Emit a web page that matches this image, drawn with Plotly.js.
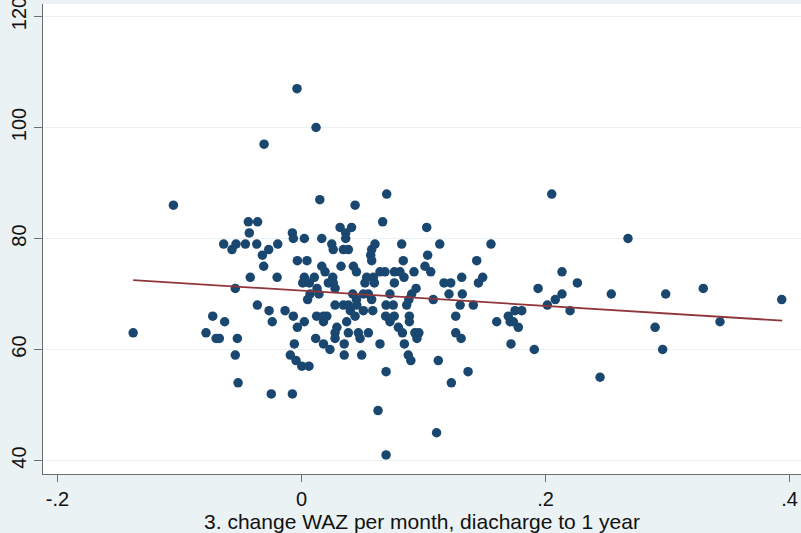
<!DOCTYPE html>
<html>
<head>
<meta charset="utf-8">
<script src="https://cdn.plot.ly/plotly-3.0.1.min.js"></script>
<style>html,body{margin:0;padding:0;background:#EAF2F3;}#chart{width:801px;height:533px;}</style>
</head>
<body>
<div id="chart"></div>
<script>
// change in WAZ per month (discharge to 1 year)
var wazChange = [
 -0.138,-0.105,-0.0783,-0.0728,-0.0700,-0.0674,-0.0638,-0.0630,-0.0570,-0.0537,
 -0.0543,-0.0526,-0.0543,-0.0520,-0.0460,-0.0436,-0.0360,-0.0428,-0.0420,-0.0367,
 -0.0362,-0.0321,-0.0310,-0.0307,-0.0269,-0.0266,-0.0240,-0.0248,-0.0195,-0.0200,
 -0.0135,-0.0092,-0.0075,-0.0067,-0.0067,-0.0059,-0.0075,-0.0045,-0.0034,-0.0034,
 -0.0037,0.0002,0.0061,0.0023,0.0045,0.0023,0.0010,0.0105,0.0064,0.0050,
 0.0070,0.0127,0.0023,0.0119,0.0150,0.0124,0.0180,0.0207,0.0116,0.0180,
 0.0180,0.0233,0.0166,0.0166,0.0193,0.0248,0.0260,0.0316,0.0410,0.0362,
 0.0362,0.0343,0.0384,0.0324,0.0425,0.0450,0.0256,0.0220,0.0260,0.0275,
 0.0275,0.0343,0.0384,0.0400,0.0439,0.0370,0.0290,0.0275,0.0275,0.0384,
 0.0466,0.0480,0.0548,0.0350,0.0350,0.0493,0.0643,0.0693,0.0627,0.0693,
 0.0439,0.0698,0.0665,0.1026,0.0602,0.0575,0.0567,0.0575,0.0821,0.1133,
 0.0834,0.1034,0.1012,0.1059,0.1436,0.0643,0.0684,0.0761,0.0807,0.0922,
 0.0534,0.0589,0.0840,0.0761,0.0520,0.0597,0.1168,0.1223,0.1313,0.1450,
 0.1485,0.0420,0.0507,0.0548,0.0725,0.0903,0.0939,0.0880,0.1080,0.1209,
 0.1318,0.1300,0.1408,0.0575,0.0450,0.0693,0.0752,0.0862,0.0507,0.0584,
 0.0690,0.0760,0.0884,0.0725,0.0884,0.1264,0.0794,0.0827,0.0929,0.0962,
 0.0946,0.0843,0.0875,0.0896,0.1121,0.1107,0.1228,0.1365,0.1264,0.1308,
 0.1553,0.2051,0.2676,0.2135,0.2261,0.1939,0.2135,0.2080,0.2015,0.2201,
 0.2539,0.2985,0.3293,0.3936,0.3430,0.2898,0.2960,0.1908,0.1717,0.1600,
 0.1695,0.1750,0.1805,0.1710,0.1736,0.1777,0.2447,0.0143,0.0453
];
var outcome = [
 63,86,63,66,62,62,79,65,78,79,
 71,62,59,54,79,83,83,81,73,79,
 68,77,75,97,78,67,65,52,79,73,
 67,59,81,80,66,61,52,58,76,64,
 107,57,57,80,76,73,72,73,72,69,
 70,71,65,100,87,66,66,66,62,65,
 61,60,80,75,74,79,78,82,82,81,
 80,78,78,75,75,74,73,72,72,71,
 68,68,68,67,66,65,64,63,62,63,
 63,62,63,61,59,59,61,56,49,41,
 86,88,83,82,79,78,77,76,79,79,
 76,77,75,74,76,74,74,74,74,74,
 73,73,73,72,72,72,72,72,73,72,
 73,70,70,70,70,70,71,69,69,70,
 70,68,68,69,69,68,68,68,67,67,
 66,66,66,65,65,66,64,63,63,63,
 62,61,59,58,58,45,54,56,63,62,
 79,88,80,74,72,71,70,69,68,67,
 70,70,71,69,65,64,60,60,61,65,
 66,67,67,65,65,64,55,70,68
];
// fitted values (linear fit) at the ends of the data range
var fitX = [-0.138, 0.394];
var fitY = [72.5, 65.2];
var xTicks = [-0.2, 0, 0.2, 0.4];
var xTickText = ['-.2', '0', '.2', '.4'];
var yTicks = [40, 60, 80, 100, 120];
var yTickText = ['40', '60', '80', '100', '120'];
var xTitle = '3. change WAZ per month, diacharge to 1 year';

var font = 'Liberation Sans, Arial, sans-serif';
var traces = [
  {x: wazChange, y: outcome, type: 'scatter', mode: 'markers',
   marker: {color: '#1a476f', size: 9.5, line: {width: 0}}, hoverinfo: 'skip'},
  {x: fitX, y: fitY, type: 'scatter', mode: 'lines',
   line: {color: '#90353b', width: 1.8}, hoverinfo: 'skip'}
];
var layout = {
  width: 801, height: 533,
  paper_bgcolor: '#EAF2F3', plot_bgcolor: '#ffffff',
  margin: {l: 43, r: 0, t: 4, b: 59, pad: 0},
  showlegend: false,
  font: {family: font, color: '#111111', size: 20},
  xaxis: {
    range: [-0.2119, 0.4094], tickmode: 'array', tickvals: xTicks, ticktext: xTickText,
    showgrid: false, zeroline: false, showline: true, linecolor: '#6e6e6e', linewidth: 1.2,
    ticks: 'outside', ticklen: 7, tickwidth: 1.2, tickcolor: '#6e6e6e',
    ticklabeloverflow: 'allow',
    tickfont: {family: font, size: 20, color: '#111111'},
    title: {text: xTitle, font: {family: font, size: 21, color: '#111111'}, standoff: 0}
  },
  yaxis: {
    range: [37.57, 122.25], tickmode: 'array', tickvals: yTicks, ticktext: yTickText,
    showgrid: true, gridcolor: '#EAF2F3', gridwidth: 1.5, zeroline: false,
    showline: true, linecolor: '#6e6e6e', linewidth: 1.2,
    ticks: 'outside', ticklen: 8, tickwidth: 1.2, tickcolor: '#6e6e6e',
    tickangle: -90, ticklabeloverflow: 'allow',
    tickfont: {family: font, size: 20, color: '#111111'}
  }
};
Plotly.newPlot('chart', traces, layout, {staticPlot: true, displayModeBar: false});
</script>
</body>
</html>
